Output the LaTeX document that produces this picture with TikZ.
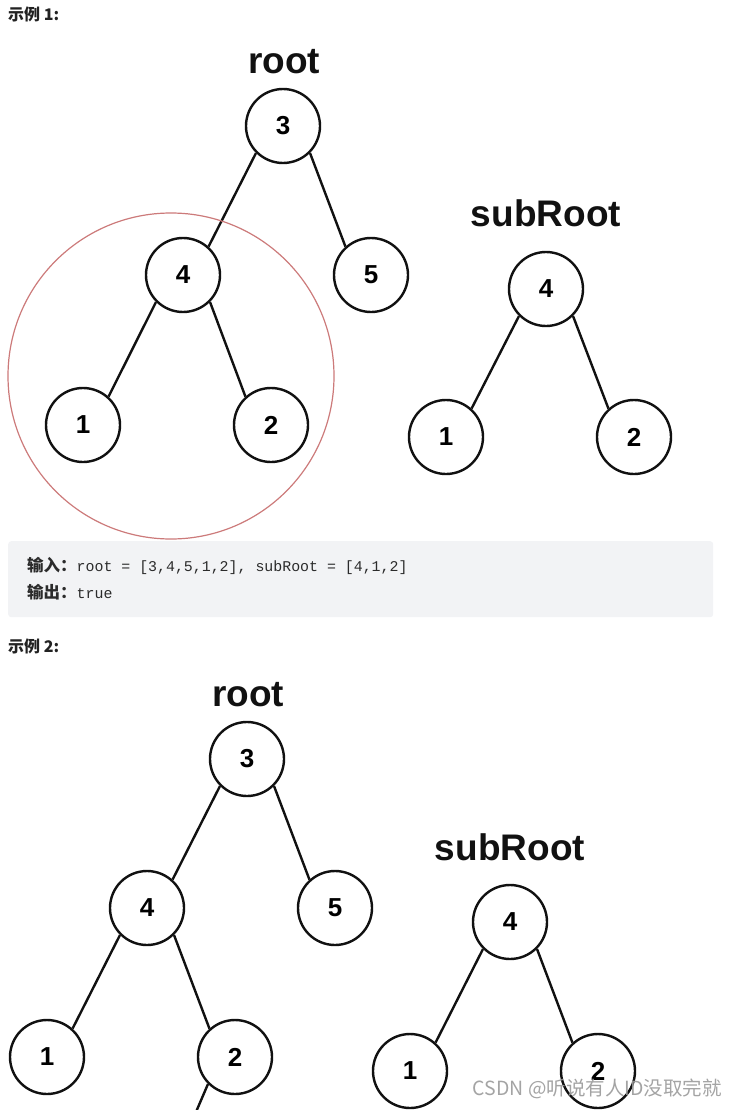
\documentclass[tikz,border=0pt]{standalone}
\usepackage{fontspec}
\setmainfont{Liberation Sans}
\setmonofont{Liberation Mono}
\newfontfamily\cjkfont{Noto Sans CJK SC}
\usepackage{tikz}
\definecolor{treeBlack}{HTML}{111111}
\definecolor{hlRed}{HTML}{CC7A7A}
\definecolor{boxGrey}{HTML}{F2F3F5}
\definecolor{headText}{HTML}{222222}
\definecolor{codeText}{HTML}{2B2B2B}
\definecolor{markGrey}{HTML}{9A9A9A}
\usetikzlibrary{positioning}

\begin{document}
\begin{tikzpicture}[
  x=1pt, y=-1pt,
  treenode/.style={circle, draw=treeBlack, line width=2.4pt, fill=white, minimum size=74pt, inner sep=0pt, font=\fontsize{26}{26}\selectfont\bfseries},
  link/.style={draw=treeBlack, line width=2.4pt},
  treetitle/.style={font=\fontsize{37}{37}\selectfont\bfseries, text=treeBlack},
  heading/.style={anchor=west, inner sep=0pt, text=headText, font=\cjkfont\fontsize{16}{16}\selectfont\bfseries},
  iobox/.style={anchor=north west, fill=boxGrey, rounded corners=3pt, minimum width=705pt, minimum height=76pt, inner sep=0pt},
  ioline/.style={anchor=west, inner sep=0pt, text=codeText, font=\fontsize{14.9}{15}\selectfont}
]
\useasboundingbox (0,0) rectangle (737,1110);

% Example 1
\node[heading] (headA) at (8,14) {示例 1:};
\node[treetitle] (rootA) at (284,62) {root};
\node[treenode] (a3) at (283,126) {3};
\node[treenode] (a4) at (183,275) {4};
\node[treenode] (a5) at (371,275) {5};
\node[treenode] (a1) at (83,425) {1};
\node[treenode] (a2) at (271,425) {2};
\draw[link] (a3.-135) -- (a4.48);
\draw[link] (a3.-45) -- (a5.132);
\draw[link] (a4.-135) -- (a1.48);
\draw[link] (a4.-45) -- (a2.132);
\node[circle, draw=hlRed, line width=1.2pt, minimum size=326pt, inner sep=0pt] (pickA) at (171,376) {};

\node[treetitle] (subA) at (546,213) {subRoot};
\node[treenode] (s4) at (546,289) {4};
\node[treenode] (s1) at (446,437) {1};
\node[treenode] (s2) at (634,437) {2};
\draw[link] (s4.-135) -- (s1.48);
\draw[link] (s4.-45) -- (s2.132);

% Input / output box
\node[iobox] (boxA) at (8,541) {};
\node[ioline] (inA) at (27,566) {{\cjkfont\bfseries\fontsize{16.5}{16.5}\selectfont 输入：}\texttt{root = [3,4,5,1,2], subRoot = [4,1,2]}};
\node[ioline] (outA) at (27,592) {{\cjkfont\bfseries\fontsize{16.5}{16.5}\selectfont 输出：}\texttt{true}};

% Example 2
\node[heading] (headB) at (8,646) {示例 2:};
\node[treetitle] (rootB) at (248,695) {root};
\node[treenode] (b3) at (247,759) {3};
\node[treenode] (b4) at (147,908) {4};
\node[treenode] (b5) at (335,908) {5};
\node[treenode] (b1) at (47,1057) {1};
\node[treenode] (b2) at (235,1057) {2};
\coordinate (b0) at (196,1112);
\draw[link] (b3.-135) -- (b4.48);
\draw[link] (b3.-45) -- (b5.132);
\draw[link] (b4.-135) -- (b1.48);
\draw[link] (b4.-45) -- (b2.132);
\draw[link] (b2.-135) -- (b0);

\node[treetitle] (subB) at (510,847) {subRoot};
\node[treenode] (t4) at (510,922) {4};
\node[treenode] (t1) at (410,1071) {1};
\node[treenode] (t2) at (598,1071) {2};
\draw[link] (t4.-135) -- (t1.48);
\draw[link] (t4.-45) -- (t2.132);

% Watermark
\node[anchor=east, inner sep=0pt, text=markGrey, text opacity=0.9, font=\cjkfont\fontsize{19.5}{19.5}\selectfont] (mark) at (722,1089) {CSDN @听说有人ID没取完就};

\end{tikzpicture}
\end{document}
